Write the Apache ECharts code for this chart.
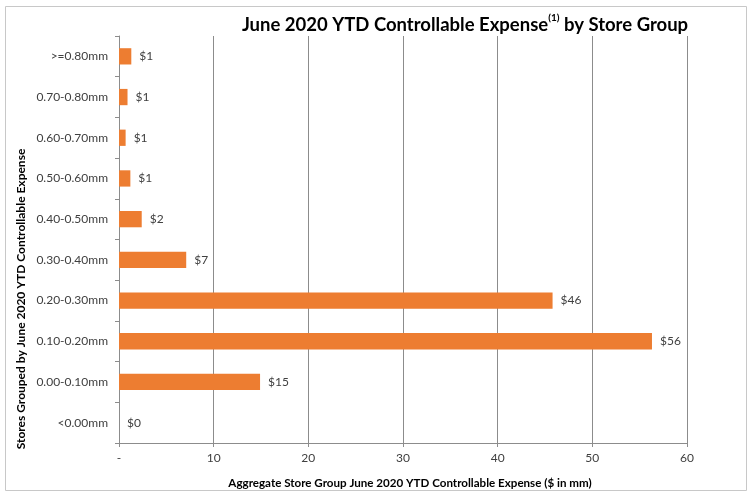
<!DOCTYPE html>
<html>
<head>
<meta charset="utf-8">
<style>
  html, body { margin: 0; padding: 0; background: #fff; }
  #chart { width: 754px; height: 499px; }
</style>
<script src="https://cdn.jsdelivr.net/npm/echarts@6/dist/echarts.min.js"></script>
</head>
<body>
<div id="chart"></div>
<script>
// Store groups, listed bottom to top as drawn on the category axis
const categories = ['<0.00mm', '0.00-0.10mm', '0.10-0.20mm', '0.20-0.30mm', '0.30-0.40mm',
  '0.40-0.50mm', '0.50-0.60mm', '0.60-0.70mm', '0.70-0.80mm', '>=0.80mm'];
// Aggregate YTD controllable expense per group ($ in mm)
const expense = [0, 14.9, 56.3, 45.8, 7.1, 2.4, 1.2, 0.7, 0.9, 1.3];
// Value-axis ticks
const xTicks = [0, 10, 20, 30, 40, 50, 60];

const FONT = 'Lato, "Open Sans", sans-serif';
const chart = echarts.init(document.getElementById('chart'), null, { renderer: 'canvas' });

chart.setOption({
  animation: false,
  backgroundColor: '#fff',
  textStyle: { fontFamily: FONT },
  graphic: [{
    type: 'rect',
    shape: { x: 5.5, y: 6.5, width: 741, height: 484 },
    style: { fill: 'none', stroke: '#c8c8c8', lineWidth: 1 },
    silent: true
  }, {
    // vertical category-axis title
    type: 'text',
    x: 21.5,
    y: 299,
    rotation: Math.PI / 2,
    style: {
      text: 'Stores Grouped by June 2020 YTD Controllable Expense',
      fontFamily: FONT,
      fontSize: 12,
      fontWeight: 'bold',
      fill: '#000',
      align: 'center',
      verticalAlign: 'middle'
    },
    silent: true
  }],
  title: {
    text: '{a|June 2020 YTD Controllable Expense}{s|(1)}{a| by Store Group}',
    left: 460,
    textAlign: 'center',
    top: 8,
    textStyle: {
      rich: {
        a: { fontFamily: FONT, fontSize: 18.5, fontWeight: 'bold', color: '#000', lineHeight: 24 },
        s: { fontFamily: FONT, fontSize: 10, fontWeight: 'bold', color: '#000', lineHeight: 24, verticalAlign: 'top', padding: [0, 0, 8, 0] }
      }
    }
  },
  grid: { left: 119, right: 67, top: 36, bottom: 56, containLabel: false },
  xAxis: {
    type: 'value',
    min: xTicks[0],
    max: xTicks[xTicks.length - 1],
    interval: 10,
    name: 'Aggregate Store Group June 2020 YTD Controllable Expense ($ in mm)',
    nameLocation: 'middle',
    nameGap: 34,
    nameTextStyle: { fontFamily: FONT, fontSize: 11.6, fontWeight: 'bold', color: '#000', padding: [0, 0, 0, 14] },
    axisLine: { show: true, lineStyle: { color: '#8c8c8c', width: 1 } },
    axisTick: { show: true, length: 4, lineStyle: { color: '#8c8c8c' } },
    axisLabel: {
      margin: 9,
      fontSize: 12,
      color: '#404040',
      formatter: v => (v === 0 ? '-' : String(v))
    },
    splitLine: { show: true, lineStyle: { color: '#8c8c8c', width: 1 } }
  },
  yAxis: {
    type: 'category',
    data: categories,
    axisLine: { show: true, lineStyle: { color: '#8c8c8c', width: 1 } },
    axisTick: { show: true, length: 4, lineStyle: { color: '#8c8c8c' } },
    axisLabel: { margin: 11, fontSize: 12, color: '#404040' },
    splitLine: { show: false }
  },
  series: [{
    type: 'bar',
    data: expense,
    barWidth: '40%',
    itemStyle: { color: '#ED7D31' },
    label: {
      show: true,
      position: 'right',
      distance: 8,
      fontSize: 12,
      color: '#404040',
      formatter: p => '$' + Math.round(p.value)
    }
  }]
});
</script>
</body>
</html>
